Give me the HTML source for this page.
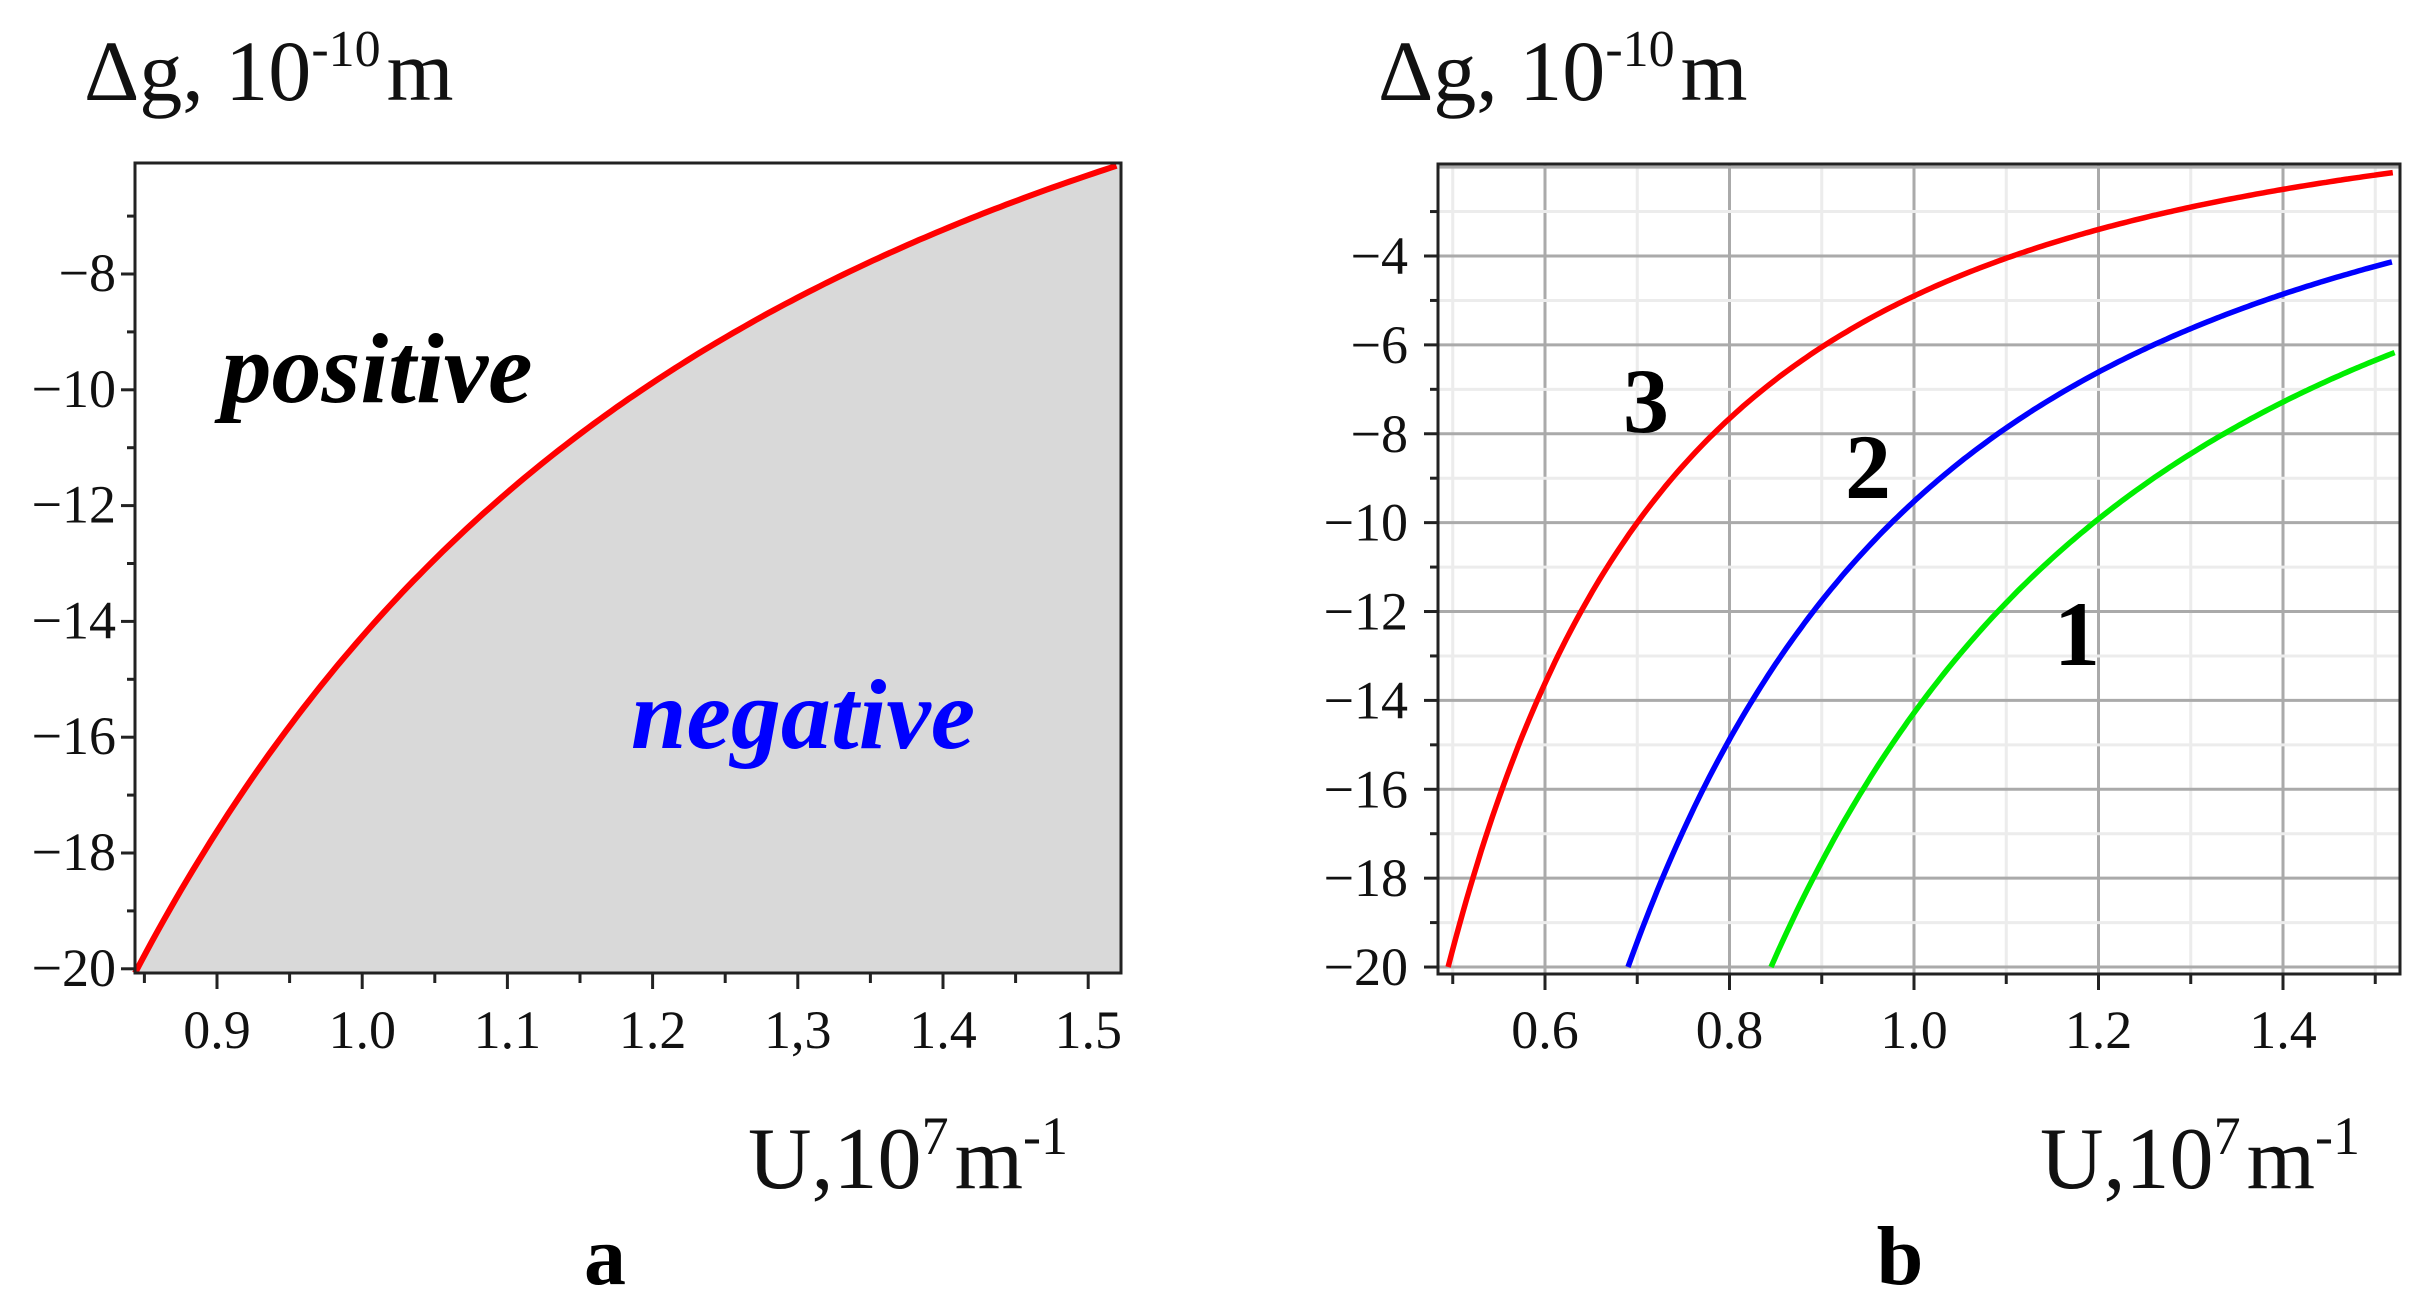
<!DOCTYPE html>
<html><head><meta charset="utf-8">
<style>
html,body{margin:0;padding:0;background:#fff;}
svg{display:block;}
text{font-family:"Liberation Serif",serif;}
</style></head>
<body>
<svg id="s" width="2431" height="1309" viewBox="0 0 2431 1309" xmlns="http://www.w3.org/2000/svg">
<rect width="2431" height="1309" fill="#fff"/>
<g id="A"></g>
<g id="B"></g>
<text x="84" y="100" font-size="86" fill="#111">Δg, 10<tspan font-size="52" dy="-34">-10</tspan><tspan dy="34" dx="6">m</tspan></text>
<text x="1378" y="100" font-size="86" fill="#111">Δg, 10<tspan font-size="52" dy="-34">-10</tspan><tspan dy="34" dx="6">m</tspan></text>
<text x="748" y="1188" font-size="88" fill="#111">U,10<tspan font-size="54" dy="-34">7</tspan><tspan dy="34" dx="6">m</tspan><tspan font-size="54" dy="-34">-1</tspan></text>
<text x="2040" y="1188" font-size="88" fill="#111">U,10<tspan font-size="54" dy="-34">7</tspan><tspan dy="34" dx="6">m</tspan><tspan font-size="54" dy="-34">-1</tspan></text>
<text x="605" y="1284" font-size="84" font-weight="bold" text-anchor="middle" fill="#000">a</text>
<text x="1900" y="1284" font-size="84" font-weight="bold" text-anchor="middle" fill="#000">b</text>
</svg>
<script>
var NS="http://www.w3.org/2000/svg";
function el(p,t,a,txt){var e=document.createElementNS(NS,t);for(var k in a)e.setAttribute(k,a[k]);if(txt!=null)e.textContent=txt;p.appendChild(e);return e;}
(function(){
 var g=document.getElementById("A");
 var L=135,T=163,R=1121,B=973;
 function X(u){return 217+(u-0.9)*1452;}
 function Y(v){return 274+(-8-v)*57.9;}
 function f(u){return -14.34/(u*u)+0.08;}
 var pts=[];for(var u=0.8435;u<=1.5235;u+=0.004){pts.push([X(u),Math.max(T,Y(f(u)))]);}
 var d="M"+L+","+B;pts.forEach(function(p){d+=" L"+p[0].toFixed(1)+","+p[1].toFixed(1);});
 d+=" L"+R+","+T+" L"+R+","+B+" Z";
 el(g,"path",{d:d,fill:"#d9d9d9"});
 var c="";pts.forEach(function(p,i){c+=(i?" L":"M")+p[0].toFixed(1)+","+p[1].toFixed(1);});
 el(g,"path",{d:c,fill:"none",stroke:"#ff0000","stroke-width":6});
 el(g,"rect",{x:L,y:T,width:R-L,height:B-T,fill:"none",stroke:"#222","stroke-width":3});
 for(var v=-20;v<=-7;v++){var y=Y(v);var maj=(v%2===0);
  el(g,"line",{x1:L-(maj?14:8),y1:y,x2:L,y2:y,stroke:"#222","stroke-width":3});
  if(maj)el(g,"text",{x:116,y:y+17,"font-size":54,"text-anchor":"end",fill:"#111"},"\u2212"+(-v));}
 var labs=["0.9","1.0","1.1","1.2","1,3","1.4","1.5"];
 for(var i=0;i<14;i++){var u=0.85+i*0.05;var x=X(u);if(x<L||x>R)continue;var maj=(i%2===1);
  el(g,"line",{x1:x,y1:B,x2:x,y2:B+(maj?16:10),stroke:"#222","stroke-width":3});
  if(maj)el(g,"text",{x:x,y:1048,"font-size":54,"text-anchor":"middle",fill:"#111"},labs[(i-1)/2]);}
 el(g,"text",{x:377,y:402,"font-size":100,"font-weight":"bold","font-style":"italic","text-anchor":"middle",fill:"#000"},"positive");
 el(g,"text",{x:803,y:748,"font-size":100,"font-weight":"bold","font-style":"italic","text-anchor":"middle",fill:"#0000ff"},"negative");
})();
(function(){
 var g=document.getElementById("B");
 var L=1438,T=164,R=2400,B=974;
 function X(u){return 1545+(u-0.6)*922.5;}
 function Y(v){return 256+(-4-v)*44.44;}
 for(var k=5;k<=15;k++){var u=k/10;var x=X(u);if(x<=L||x>=R)continue;
  el(g,"line",{x1:x,y1:T,x2:x,y2:B,stroke:(k%2===0)?"#aaaaaa":"#ececec","stroke-width":3});}
 for(var v=-20;v<=-2;v++){var y=Y(v);if(y<=T||y>=B+1)continue;
  el(g,"line",{x1:L,y1:y,x2:R,y2:y,stroke:(v%2===0)?"#aaaaaa":"#ececec","stroke-width":3});}
 var curves=[[20*0.845*0.845,"#00ee00",0.845],[20*0.69*0.69,"#0000ff",0.69],[20*0.495*0.495,"#ff0000",0.495]];
 curves.forEach(function(cv){var c="";var first=true;
  for(var u=cv[2];u<=1.522;u+=0.004){var x=X(u),y=Y(-cv[0]/(u*u));c+=(first?"M":" L")+x.toFixed(1)+","+y.toFixed(1);first=false;}
  el(g,"path",{d:c,fill:"none",stroke:cv[1],"stroke-width":5.5});});
 el(g,"rect",{x:L,y:T,width:R-L,height:B-T,fill:"none",stroke:"#222","stroke-width":3});
 for(var v=-20;v<=-3;v++){var y=Y(v);var maj=(v%2===0);
  el(g,"line",{x1:L-(maj?14:8),y1:y,x2:L,y2:y,stroke:"#222","stroke-width":3});
  if(maj)el(g,"text",{x:1408,y:y+18,"font-size":54,"text-anchor":"end",fill:"#111"},"\u2212"+(-v));}
 for(var k=5;k<=15;k++){var u=k/10;var x=X(u);if(x<L||x>R)continue;var maj=(k%2===0);
  el(g,"line",{x1:x,y1:B,x2:x,y2:B+(maj?16:10),stroke:"#222","stroke-width":3});
  if(maj)el(g,"text",{x:x,y:1048,"font-size":54,"text-anchor":"middle",fill:"#111"},u.toFixed(1));}
 el(g,"text",{x:1646,y:432,"font-size":92,"font-weight":"bold","text-anchor":"middle",fill:"#000"},"3");
 el(g,"text",{x:1868,y:498,"font-size":92,"font-weight":"bold","text-anchor":"middle",fill:"#000"},"2");
 el(g,"text",{x:2077,y:665,"font-size":92,"font-weight":"bold","text-anchor":"middle",fill:"#000"},"1");
})();
</script>
</body></html>
